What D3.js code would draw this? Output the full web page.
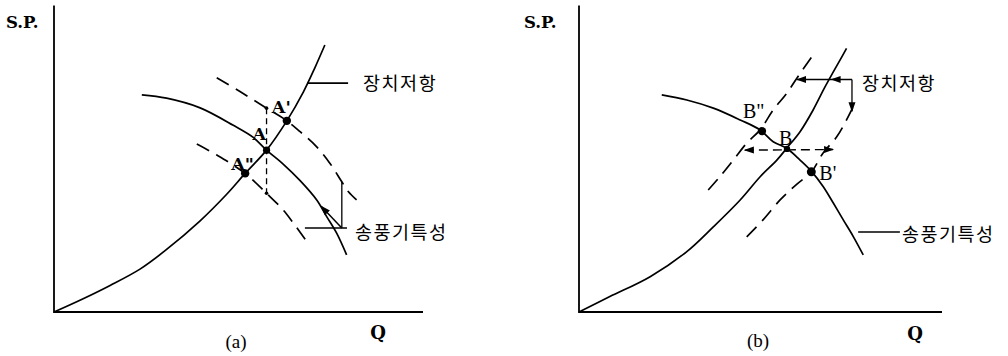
<!DOCTYPE html>
<html>
<head>
<meta charset="utf-8">
<script src="https://cdn.jsdelivr.net/npm/d3@7"></script>
<style>
  body { margin: 0; background: #fff; }
  svg { display: block; }
</style>
</head>
<body>
<svg id="chart" width="1008" height="356"></svg>
<script>
// ---- Panel (a): fan characteristic shifts, system resistance fixed ----
const aSystem = [[0,0],[7.9,4.4],[15.2,8.8],[23.3,14.2],[30.1,20.3],[39.6,30.2],[46.8,39.0],[51.8,45.9],[57.6,53.6],[63.1,63.3],[67.6,72.9],[70.6,80.6],[73.4,88.4]];
const aFan = [[23.8,71.9],[30.5,70.8],[39.6,67.6],[48.6,61.8],[54.0,57.8],[57.6,53.6],[62.1,49.0],[66.7,43.5],[71.2,37.1],[73.9,31.6],[76.6,26.1],[79.3,18.9]];
const aFanHigh = [[44.1,77.6],[50.4,73.0],[57.6,67.5],[63.1,63.3],[66.7,59.7],[71.2,54.7],[74.8,49.2],[78.0,43.1],[79.8,39.8],[82.0,37.1]];
const aFanLow = [[38.7,55.6],[44.1,52.0],[51.8,45.9],[57.6,39.3],[62.1,33.8],[64.9,29.4],[68.5,23.3]];
const aPointNames = ["A'", "A", "A\""];
const aPointQ = [63.1, 57.6, 51.8];
const aPointSP = [63.3, 53.6, 45.9];

// ---- Panel (b): system resistance shifts, fan characteristic fixed ----
const bSystem = [[0,0],[8.5,5.1],[19.6,11.7],[29.7,20.0],[37.0,28.2],[44.4,37.1],[49.9,44.8],[54.5,50.3],[57.2,54.2],[60.9,59.7],[64.5,66.9],[67.8,74.6],[70.1,79.6],[71.9,83.4],[73.7,87.3]];
const bFan = [[22.8,71.9],[29.7,70.2],[37.0,67.5],[44.4,63.6],[49.9,60.3],[53.5,56.4],[57.2,54.2],[60.9,50.3],[64.1,46.5],[67.3,41.5],[70.1,36.0],[72.8,30.5],[75.6,24.9],[78.3,18.9]];
const bSystemHigh = [[35.6,40.4],[38.8,44.8],[42.5,50.3],[46.2,55.9],[49.9,60.3],[53.5,66.9],[57.2,72.4],[60.9,79.0],[64.5,85.1]];
const bSystemLow = [[46.2,24.9],[50.7,30.5],[55.4,37.1],[59.8,42.1],[64.1,46.5],[67.2,52.6],[71.0,58.0],[73.7,63.6],[75.5,67.9]];
const bPointNames = ["B\"", "B", "B'"];
const bPointQ = [50.4, 57.3, 64.0];
const bPointSP = [59.9, 54.0, 46.4];

// axis and curve labels
const axisY = "S.P.";
const axisX = "Q";
const labelSystem = "장치저항";
const labelFan = "송풍기특성";
const panelTitles = ["(a)", "(b)"];

const svg = d3.select("#chart");

const defs = svg.append("defs");
defs.append("marker")
  .attr("id", "arrow")
  .attr("viewBox", "0 0 10 10")
  .attr("refX", 9).attr("refY", 5)
  .attr("markerUnits", "userSpaceOnUse")
  .attr("markerWidth", 10).attr("markerHeight", 10)
  .attr("orient", "auto-start-reverse")
  .append("path").attr("d", "M0,1.5 L10,5 L0,8.5 Z").attr("fill", "#000");

const y = d3.scaleLinear([0, 100], [312, 10]);
const xa = d3.scaleLinear([0, 100], [54, 423]);
const xb = d3.scaleLinear([0, 100], [579, 942]);

const krFont = "'Noto Sans CJK KR', 'Noto Sans', sans-serif";

function makeLine(x) {
  return d3.line().x(d => x(d[0])).y(d => y(d[1])).curve(d3.curveCatmullRom.alpha(0.5));
}
function straight(x) {
  return d3.line().x(d => x(d[0])).y(d => y(d[1]));
}

function axes(g, x, xEnd) {
  g.append("path")
    .attr("d", straight(x)([[0, 101.5], [0, 0], [xEnd, 0]]))
    .attr("fill", "none").attr("stroke", "#000").attr("stroke-width", 1.8);
}

function curve(g, x, data, dashed) {
  g.append("path")
    .attr("d", makeLine(x)(data))
    .attr("fill", "none").attr("stroke", "#000")
    .attr("stroke-width", 1.7)
    .attr("stroke-dasharray", dashed ? "14,8" : null);
}

function points(g, x, names, qs, sps, r) {
  names.forEach((n, i) => {
    g.append("circle").attr("cx", x(qs[i])).attr("cy", y(sps[i])).attr("r", r[i]).attr("fill", "#000");
  });
}

function textAt(g, px, py, str, opts) {
  const t = g.append("text").attr("x", px).attr("y", py).text(str);
  Object.entries(opts).forEach(([k, v]) => t.attr(k, v));
  return t;
}

// ================= Panel (a) =================
const ga = svg.append("g");
axes(ga, xa, 100);
curve(ga, xa, aSystem, false);
curve(ga, xa, aFan, false);
curve(ga, xa, aFanHigh, true);
curve(ga, xa, aFanLow, true);

// vertical dashed guide through A
ga.append("path")
  .attr("d", straight(xa)([[aPointQ[1], 67.5], [aPointQ[1], 39.3]]))
  .attr("stroke", "#000").attr("stroke-width", 1.3).attr("stroke-dasharray", "6,4");
[67.5, 39.3].forEach(v => ga.append("circle").attr("cx", xa(aPointQ[1])).attr("cy", y(v)).attr("r", 1.8));

points(ga, xa, aPointNames, aPointQ, aPointSP, [4.2, 3.6, 4.2]);

// bracket from upper fan curve with arrow to the base fan curve
ga.append("path")
  .attr("d", straight(xa)([[78.0, 43.1], [78.0, 27.8]]))
  .attr("fill", "none").attr("stroke", "#000").attr("stroke-width", 1.3);
ga.append("path")
  .attr("d", straight(xa)([[78.0, 27.8], [72.4, 35.0]]))
  .attr("fill", "none").attr("stroke", "#000").attr("stroke-width", 1.5)
  .attr("marker-end", "url(#arrow)");

// leaders
ga.append("path").attr("d", straight(xa)([[68.6, 75.8], [79.7, 75.8]]))
  .attr("stroke", "#000").attr("stroke-width", 1.6);
ga.append("path").attr("d", straight(xa)([[68.0, 27.8], [79.4, 27.8]]))
  .attr("stroke", "#000").attr("stroke-width", 1.6);

const ptFont = { "font-family": "'DejaVu Serif', serif", "font-weight": "bold", "font-size": 17.5 };
textAt(ga, xa(aPointQ[0]) - 15, y(aPointSP[0]) - 8, aPointNames[0], ptFont);
textAt(ga, xa(aPointQ[1]) - 14, y(aPointSP[1]) - 10, aPointNames[1], ptFont);
textAt(ga, xa(aPointQ[2]) - 14, y(aPointSP[2]) - 3, aPointNames[2], ptFont);

const krOpts = { "font-family": krFont, "font-size": 18.5, "letter-spacing": 1.5, "dominant-baseline": "central" };
textAt(ga, xa(79.7) + 15, y(75.8) - 1, labelSystem, krOpts);
textAt(ga, xa(79.4) + 8, y(27.8) + 3, labelFan, krOpts);

const axisFont = { "font-family": "'DejaVu Serif', serif", "font-weight": "bold", "font-size": 16.5, "dominant-baseline": "central" };
textAt(ga, 6, 22, axisY, axisFont);
textAt(ga, 378, 332, axisX, Object.assign({}, axisFont, { "text-anchor": "middle", "font-size": 18 }));
textAt(ga, 236, 341, panelTitles[0], { "font-family": "'Liberation Serif', serif", "font-size": 19, "text-anchor": "middle", "dominant-baseline": "central" });

// ================= Panel (b) =================
const gb = svg.append("g");
axes(gb, xb, 100);
curve(gb, xb, bSystem, false);
curve(gb, xb, bFan, false);
curve(gb, xb, bSystemHigh, true);
curve(gb, xb, bSystemLow, true);

// horizontal dashed guide through B, arrows both ways
gb.append("path")
  .attr("d", straight(xb)([[45.7, 53.6], [70.0, 53.8]]))
  .attr("fill", "none").attr("stroke", "#000").attr("stroke-width", 1.4)
  .attr("stroke-dasharray", "9,5")
  .attr("marker-start", "url(#arrow)").attr("marker-end", "url(#arrow)");

points(gb, xb, bPointNames, bPointQ, bPointSP, [4.2, 3.2, 4.5]);

// bracket pointing to the three resistance curves
gb.append("path")
  .attr("d", straight(xb)([[75.2, 77.0], [69.6, 77.0], [60.1, 77.0]]))
  .attr("fill", "none").attr("stroke", "#000").attr("stroke-width", 1.6)
  .attr("marker-mid", "url(#arrow)").attr("marker-end", "url(#arrow)");
gb.append("path")
  .attr("d", straight(xb)([[75.2, 77.0], [75.2, 66.5]]))
  .attr("fill", "none").attr("stroke", "#000").attr("stroke-width", 1.3)
  .attr("marker-end", "url(#arrow)");

gb.append("path").attr("d", straight(xb)([[76.9, 26.5], [88.4, 26.5]]))
  .attr("stroke", "#000").attr("stroke-width", 1.6);

const ptFontB = { "font-family": "'Liberation Serif', serif", "font-size": 20 };
textAt(gb, xb(bPointQ[0]) - 19, y(bPointSP[0]) - 13, bPointNames[0], ptFontB);
textAt(gb, xb(bPointQ[1]) - 8, y(bPointSP[1]) - 4, bPointNames[1], ptFontB);
textAt(gb, xb(bPointQ[2]) + 8, y(bPointSP[2]) + 8, bPointNames[2], ptFontB);

textAt(gb, xb(75.2) + 10, y(77.0) + 3, labelSystem, krOpts);
textAt(gb, xb(88.4) + 2, y(26.5) + 1, labelFan, krOpts);

textAt(gb, 524, 22, axisY, axisFont);
textAt(gb, 915, 333, axisX, Object.assign({}, axisFont, { "text-anchor": "middle", "font-size": 18 }));
textAt(gb, 758, 340, panelTitles[1], { "font-family": "'Liberation Serif', serif", "font-size": 19, "text-anchor": "middle", "dominant-baseline": "central" });
</script>
</body>
</html>
